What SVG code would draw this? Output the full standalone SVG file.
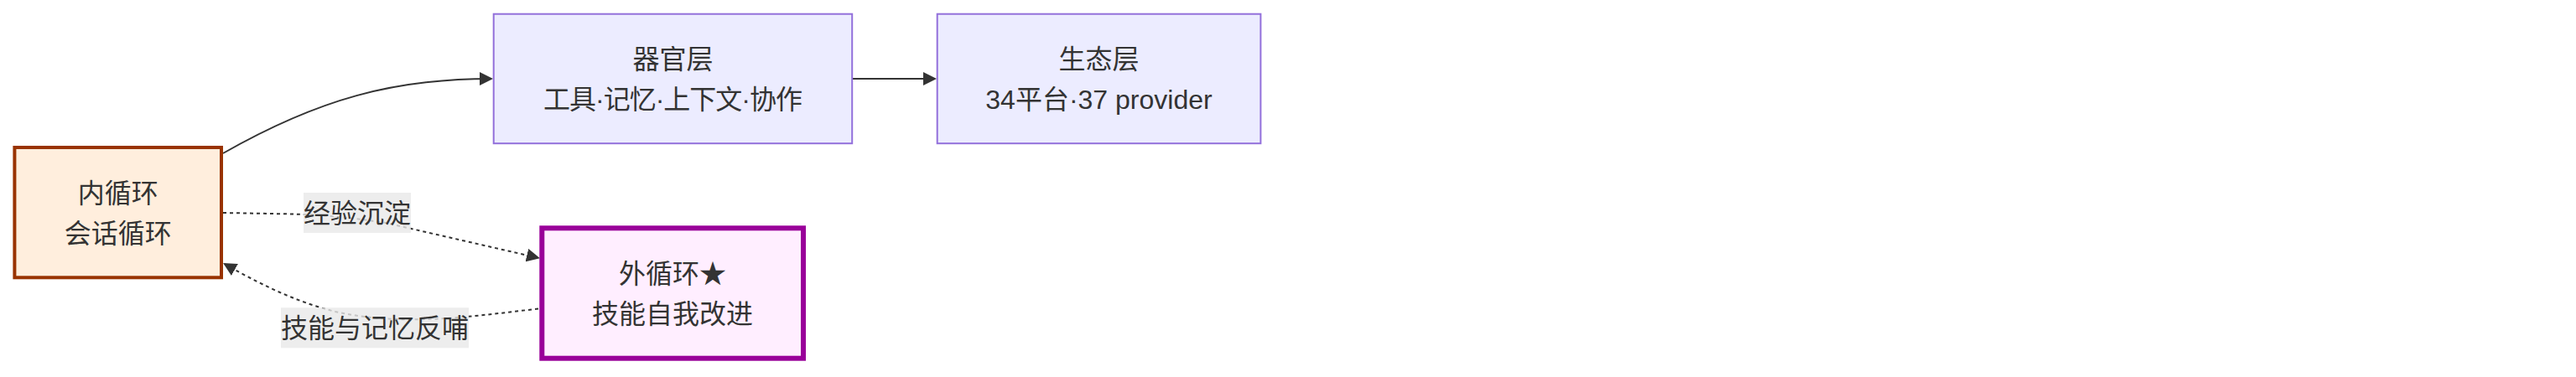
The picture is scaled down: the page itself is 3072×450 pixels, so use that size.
<svg xmlns="http://www.w3.org/2000/svg" width="3072" height="450" viewBox="0 0 3072 450">
<style>
.lbl{font-family:"Liberation Sans","Noto Sans CJK SC",sans-serif;font-size:32px;fill:#333333;text-anchor:middle}
.edge{fill:none;stroke:#333333;stroke-width:2}
.dot{stroke-dasharray:4 4}
.layer{fill:#ECECFF;stroke:#9370DB;stroke-width:2}
.elbg{fill:#e8e8e8;fill-opacity:0.8}
</style>
<defs>
<marker id="arr" markerUnits="userSpaceOnUse" viewBox="0 0 16 16" refX="14" refY="8" markerWidth="16" markerHeight="16" orient="auto">
<path d="M0,0 L16,8 L0,16 z" fill="#333333"/>
</marker>
</defs>
<rect width="3072" height="450" fill="#ffffff"/>
<g id="connectors">
<path class="edge" d="M266,183 C380,118 470,94 586,94" marker-end="url(#arr)"/>
<path class="edge" d="M1017,94 L1115,94" marker-end="url(#arr)"/>
<path class="edge dot" d="M266,254 L350,255.5 Q400,257 460,266 L642,307.8" marker-end="url(#arr)"/>
<path class="edge dot" d="M642,368.5 C560,378 480,390 400,372 C360,362 320,345 267.8,315" marker-end="url(#arr)"/>
</g>
<g id="node-organ">
<rect class="layer" x="588.7" y="16.7" width="427.5" height="154.5"/>
<text class="lbl" x="802.5" y="82">器官层</text>
<text class="lbl" x="802.5" y="130" textLength="309" lengthAdjust="spacing">工具·记忆·上下文·协作</text>
</g>
<g id="node-eco">
<rect class="layer" x="1117.7" y="16.7" width="385.7" height="154.5"/>
<text class="lbl" x="1310.5" y="82">生态层</text>
<text class="lbl" x="1310.5" y="130">34平台·37 provider</text>
</g>
<g id="node-inner">
<rect x="17.4" y="176" width="246.6" height="155.3" fill="#FFEEDD" stroke="#993300" stroke-width="4"/>
<text class="lbl" x="140.7" y="242">内循环</text>
<text class="lbl" x="140.7" y="290">会话循环</text>
</g>
<g id="node-outer">
<rect x="646.3" y="272.3" width="311.7" height="155.4" fill="#FFEEFF" stroke="#990099" stroke-width="6"/>
<text class="lbl" x="802" y="338">外循环★</text>
<text class="lbl" x="802" y="386">技能自我改进</text>
</g>
<g id="edge-label-1">
<rect class="elbg" x="362" y="230" width="128" height="48"/>
<text class="lbl" x="426" y="266">经验沉淀</text>
</g>
<g id="edge-label-2">
<rect class="elbg" x="335" y="367.3" width="224" height="48"/>
<text class="lbl" x="447" y="403">技能与记忆反哺</text>
</g>
</svg>
